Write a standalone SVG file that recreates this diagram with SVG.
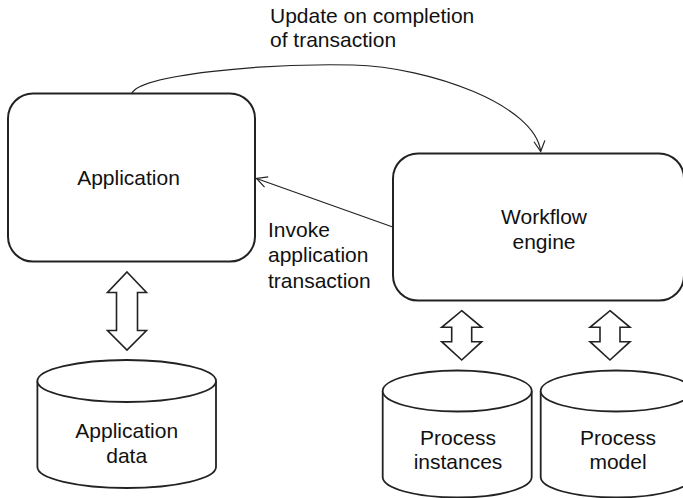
<svg xmlns="http://www.w3.org/2000/svg" width="683" height="498" viewBox="0 0 683 498">
<defs>
<style>
text{font-family:"Liberation Sans",Arial,Helvetica,sans-serif;font-size:21px;fill:#111}
.c{text-anchor:middle}
.box{fill:#fff;stroke:#222;stroke-width:2}
.cyl{fill:#fff;stroke:#222;stroke-width:1.8}
.dbl{fill:#fff;stroke:#222;stroke-width:1.6;stroke-linejoin:miter}
.conn{fill:none;stroke:#222;stroke-width:1.2}
</style>
<marker id="open" markerUnits="userSpaceOnUse" markerWidth="14" markerHeight="14" refX="11" refY="6" orient="auto" viewBox="0 0 14 12">
<path d="M0.5,0.5 L11,6 L0.5,11.5" fill="none" stroke="#222" stroke-width="1.2"/>
</marker>
</defs>
<rect width="683" height="498" fill="#fff"/>

<g id="application">
<rect class="box" x="8" y="93.5" width="247" height="168" rx="25" ry="25"/>
<text class="c" x="128.5" y="185">Application</text>
</g>

<g id="workflow-engine">
<rect class="box" x="393" y="153.5" width="291" height="147" rx="25" ry="25"/>
<text class="c" x="544" y="224">Workflow</text>
<text class="c" x="544" y="249">engine</text>
</g>

<g id="application-data">
<path class="cyl" d="M37.4,381 L37.4,467 A89.3,21 0 0 0 216,467 L216,381"/>
<ellipse class="cyl" cx="126.7" cy="381" rx="89.3" ry="21"/>
<text class="c" x="126.7" y="438">Application</text>
<text class="c" x="126.7" y="462.7">data</text>
</g>

<g id="process-instances">
<path class="cyl" d="M382.7,391 L382.7,477 A74.5,20.5 0 0 0 531.7,477 L531.7,391"/>
<ellipse class="cyl" cx="457.2" cy="391" rx="74.5" ry="20.5"/>
<text class="c" x="458" y="445">Process</text>
<text class="c" x="458" y="469.3">instances</text>
</g>

<g id="process-model">
<path class="cyl" d="M540.7,391 L540.7,477 A75.5,20.5 0 0 0 691.7,477 L691.7,391"/>
<ellipse class="cyl" cx="616.2" cy="391" rx="75.5" ry="20.5"/>
<text class="c" x="618" y="445">Process</text>
<text class="c" x="618" y="469.3">model</text>
</g>

<g id="connectors">
<path class="conn" d="M131.7,93.5 C140,75 260,63 353,65 C430,67 535,105 540.7,151.5" marker-end="url(#open)"/>
<line class="conn" x1="392" y1="226.7" x2="256.5" y2="178.5" marker-end="url(#open)"/>
<polygon class="dbl" points="127,272 146.5,292.5 137.5,292.5 137.5,330.5 146.5,330.5 127,350 107.5,330.5 116.5,330.5 116.5,292.5 107.5,292.5"/>
<polygon class="dbl" points="461.7,310.7 481.7,327.3 471.7,327.3 471.7,341.7 481.7,341.7 461.7,360 441.7,341.7 451.7,341.7 451.7,327.3 441.7,327.3"/>
<polygon class="dbl" points="610,310.7 630,327.3 620,327.3 620,341.7 630,341.7 610,360 590,341.7 600,341.7 600,327.3 590,327.3"/>
</g>

<g id="labels">
<text x="270" y="22.7">Update on completion</text>
<text x="270" y="46.7">of transaction</text>
<text x="268" y="237">Invoke</text>
<text x="268" y="262">application</text>
<text x="268" y="288">transaction</text>
</g>
</svg>
